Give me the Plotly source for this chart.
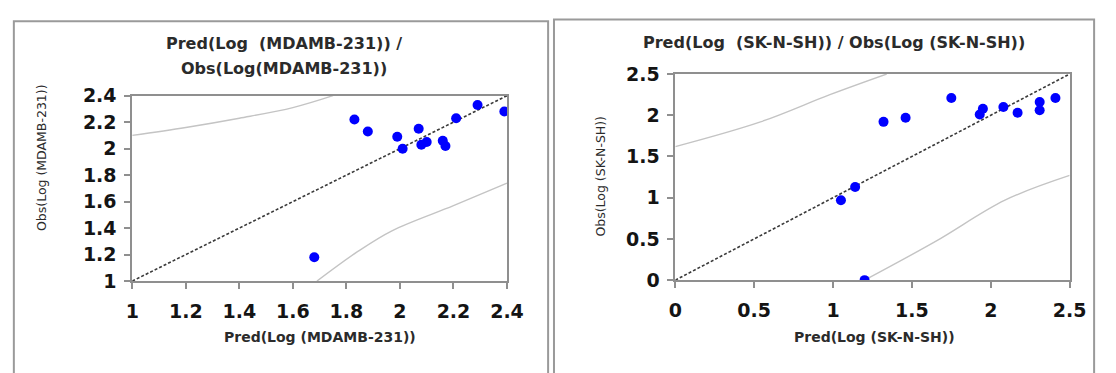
import plotly.graph_objects as go

W, H = 1116, 373

# Left panel: MDAMB-231
mda_pred = [1.83, 1.88, 1.99, 2.01, 2.07, 2.08, 2.10, 2.16, 2.17, 2.21, 2.29, 2.39, 1.68]
mda_obs = [2.22, 2.13, 2.09, 2.00, 2.15, 2.03, 2.05, 2.06, 2.02, 2.23, 2.33, 2.28, 1.18]
mda_upper_x = [1.0, 1.2, 1.4, 1.6, 1.75]
mda_upper_y = [2.10, 2.16, 2.23, 2.31, 2.40]
mda_lower_x = [1.69, 1.84, 1.97, 2.2, 2.4]
mda_lower_y = [1.00, 1.22, 1.38, 1.57, 1.74]
mda_ticks = [1, 1.2, 1.4, 1.6, 1.8, 2, 2.2, 2.4]

# Right panel: SK-N-SH
sk_pred = [1.75, 1.32, 1.46, 1.95, 1.93, 2.08, 2.17, 2.31, 2.31, 2.41, 1.14, 1.05, 1.20]
sk_obs = [2.21, 1.92, 1.97, 2.08, 2.01, 2.10, 2.03, 2.16, 2.06, 2.21, 1.13, 0.97, 0.00]
sk_upper_x = [0.0, 0.54, 0.98, 1.34]
sk_upper_y = [1.62, 1.92, 2.25, 2.50]
sk_lower_x = [1.20, 1.65, 2.09, 2.50]
sk_lower_y = [0.00, 0.47, 0.97, 1.27]
sk_ticks = [0, 0.5, 1, 1.5, 2, 2.5]


def px(x):
    return x / W


def py(y):
    return 1 - y / H


fig = go.Figure()
GRAY = "#c4c4c4"
DIAG = dict(color="#3a3a3a", width=1.6, dash="3px,2px")

# left
fig.add_trace(go.Scatter(x=mda_upper_x, y=mda_upper_y, mode="lines", line=dict(color=GRAY, width=1.4),
                         line_shape="spline", xaxis="x", yaxis="y", hoverinfo="skip"))
fig.add_trace(go.Scatter(x=mda_lower_x, y=mda_lower_y, mode="lines", line=dict(color=GRAY, width=1.4),
                         line_shape="spline", xaxis="x", yaxis="y", hoverinfo="skip"))
fig.add_trace(go.Scatter(x=[mda_ticks[0], mda_ticks[-1]], y=[mda_ticks[0], mda_ticks[-1]], mode="lines",
                         line=DIAG, xaxis="x", yaxis="y"))
fig.add_trace(go.Scatter(x=mda_pred, y=mda_obs, mode="markers",
                         marker=dict(color="#0000ff", size=10, line=dict(width=0)), xaxis="x", yaxis="y"))
# right
fig.add_trace(go.Scatter(x=sk_upper_x, y=sk_upper_y, mode="lines", line=dict(color=GRAY, width=1.4),
                         line_shape="spline", xaxis="x2", yaxis="y2", hoverinfo="skip"))
fig.add_trace(go.Scatter(x=sk_lower_x, y=sk_lower_y, mode="lines", line=dict(color=GRAY, width=1.4),
                         line_shape="spline", xaxis="x2", yaxis="y2", hoverinfo="skip"))
fig.add_trace(go.Scatter(x=[sk_ticks[0], sk_ticks[-1]], y=[sk_ticks[0], sk_ticks[-1]], mode="lines",
                         line=DIAG, xaxis="x2", yaxis="y2"))
fig.add_trace(go.Scatter(x=sk_pred, y=sk_obs, mode="markers",
                         marker=dict(color="#0000ff", size=10, line=dict(width=0)), xaxis="x2", yaxis="y2"))

tickfont = dict(family="DejaVu Sans", size=19, color="#141414", weight="bold")
axcommon = dict(showgrid=False, zeroline=False, showline=True, linecolor="#8f8f8f", linewidth=1.8,
                mirror=True, ticks="outside", ticklen=6, tickcolor="#8f8f8f", tickwidth=1.5,
                tickfont=tickfont)
xextra = dict(ticklabelstandoff=6)
yextra = dict(ticklabelstandoff=4)


def labels(vals):
    return [f"{v:g}" for v in vals]


fig.update_layout(
    width=W, height=H, margin=dict(l=0, r=0, t=0, b=0),
    paper_bgcolor="white", plot_bgcolor="white", showlegend=False,
    xaxis=dict(domain=[px(128), px(511)], range=[1, 2.4], tickvals=mda_ticks,
               ticktext=labels(mda_ticks), anchor="y", **axcommon, **xextra),
    yaxis=dict(domain=[py(287), py(90)], range=[1, 2.4], tickvals=mda_ticks,
               ticktext=labels(mda_ticks), anchor="x", **axcommon, **yextra),
    xaxis2=dict(domain=[px(683), px(1086)], range=[0, 2.5], tickvals=sk_ticks,
                ticktext=labels(sk_ticks), anchor="y2", **axcommon, **xextra),
    yaxis2=dict(domain=[py(286), py(67)], range=[0, 2.5], tickvals=sk_ticks,
                ticktext=labels(sk_ticks), anchor="x2", **axcommon, **yextra),
)

# panel borders (bottom edge lies below the visible area)
for x0, y0, x1, y1 in [(7, 11, 553, 390), (559, 9, 1111, 390)]:
    fig.add_shape(type="rect", xref="paper", yref="paper", x0=px(x0), x1=px(x1), y0=py(y1), y1=py(y0),
                  line=dict(color="#9a9a9a", width=2), fillcolor="rgba(0,0,0,0)")

tfont = dict(family="DejaVu Sans", size=16, color="#2b2b2b", weight="bold")
afont = dict(family="DejaVu Sans", size=14, color="#2b2b2b", weight="bold")
yfont = dict(family="DejaVu Sans", size=12.5, color="#2b2b2b")

ann = [
    dict(x=px(283), y=py(35), text="Pred(Log  (MDAMB-231)) /", font=tfont),
    dict(x=px(283), y=py(61), text="Obs(Log(MDAMB-231))", font=tfont),
    dict(x=px(845), y=py(33), text="Pred(Log  (SK-N-SH)) / Obs(Log (SK-N-SH))", font=tfont),
    dict(x=px(320), y=py(346), text="Pred(Log (MDAMB-231))", font=afont),
    dict(x=px(887), y=py(346), text="Pred(Log (SK-N-SH))", font=afont),
    dict(x=px(36), y=py(156), text="Obs(Log (MDAMB-231))", font=yfont, textangle=-90),
    dict(x=px(607), y=py(175), text="Obs(Log (SK-N-SH))", font=yfont, textangle=-90),
]
for a in ann:
    fig.add_annotation(xref="paper", yref="paper", showarrow=False, xanchor="center", yanchor="middle", **a)

fig.write_html("out.html", config={"displayModeBar": False},
               post_script="document.body.style.margin='0';document.body.style.overflow='hidden';")
